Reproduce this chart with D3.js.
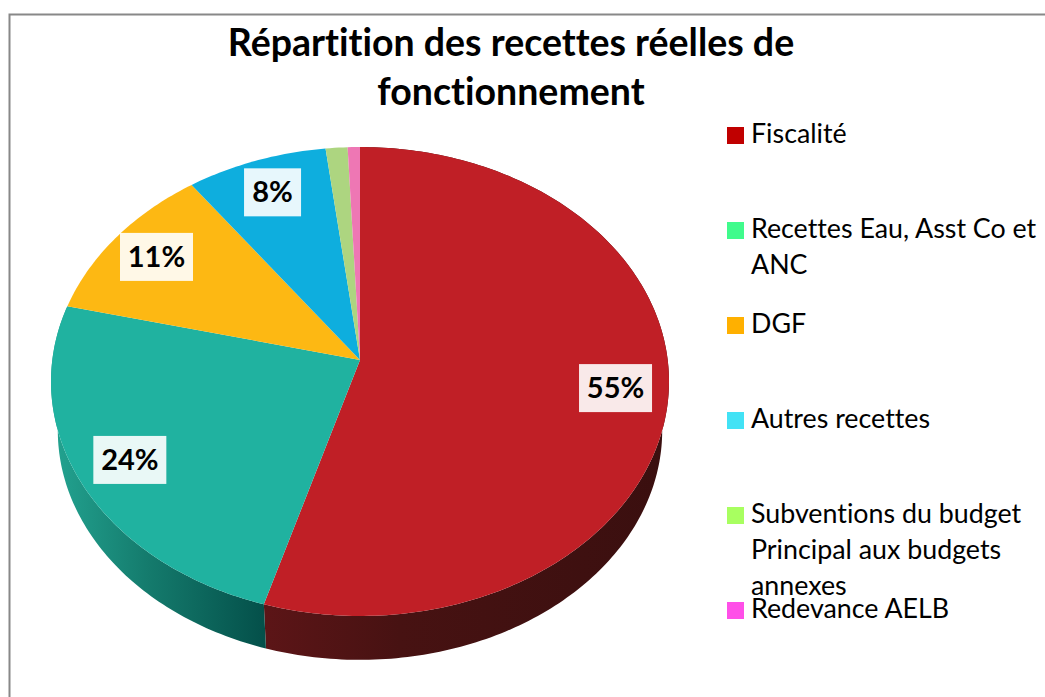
<!DOCTYPE html>
<html>
<head>
<meta charset="utf-8">
<script src="https://cdn.jsdelivr.net/npm/d3@7"></script>
<style>
  html, body { margin: 0; padding: 0; background: white; }
  svg { display: block; }
  text { font-family: Lato, "Open Sans", sans-serif; fill: black; font-variant-ligatures: none; }
</style>
</head>
<body>
<script>
var titleLines = ['Répartition des recettes réelles de', 'fonctionnement']
var categories = ['Fiscalité', 'Recettes Eau, Asst Co et ANC', 'DGF', 'Autres recettes', 'Subventions du budget Principal aux budgets annexes', 'Redevance AELB']
var legendLines = [['Fiscalité'], ['Recettes Eau, Asst Co et', 'ANC'], ['DGF'], ['Autres recettes'], ['Subventions du budget', 'Principal aux budgets', 'annexes'], ['Redevance AELB']]
var values = [54.6, 24.2, 11.2, 8.05, 1.25, 0.7]
var faceColors = ['#c01f26', '#20b2a0', '#fdb813', '#0eaede', '#add580', '#ee77b4']
var legendColors = ['#c00000', '#40fb8c', '#ffb000', '#42e2f5', '#a8ff60', '#ff4fe8']

var width = 1045, height = 697

var svg = d3.select('body').append('svg')
    .attr('width', width)
    .attr('height', height)

// frame, only top and left show in the picture
svg.append('path')
    .attr('d', 'M9.5,' + height + 'V14.5H' + width)
    .attr('fill', 'none')
    .attr('stroke', '#888')
    .attr('stroke-width', 2)

svg.selectAll('.title')
    .data(titleLines)
    .enter().append('text')
    .attr('class', 'title')
    .attr('x', 511)
    .attr('y', function(d, i){ return 56 + i * 49 })
    .attr('text-anchor', 'middle')
    .style('font-size', '37.5px')
    .style('font-weight', 'bold')
    .text(function(d){ return d })

// tilted disc: perspective projection of the unit circle
var cx = 360, cy = 360, persp = 0.0917
var scaleX = d3.scaleLinear().domain([-1, 1]).range([-307.7, 307.7])
var scaleY = d3.scaleLinear().domain([-1, 1]).range([-232.5, 232.5])

function project(t, r) {
  var u = r * Math.sin(t), v = -r * Math.cos(t), w = 1 - persp * v
  return [cx + scaleX(u) / w, cy + scaleY(v) / w]
}

// bottom rim is the top rim moved down and a bit smaller
var depth = 49.5, shrink = 0.978
function projectLow(t) {
  var p = project(t, 1)
  return [cx + (p[0] - cx) * shrink, cy + depth + (p[1] - cy) * shrink]
}

var pie = d3.pie().sort(null).value(function(d){ return d })
var slices = pie(values)
var line = d3.line()

function steps(a, b) {
  var n = Math.max(2, Math.ceil((b - a) * 60))
  return d3.range(n + 1).map(function(i){ return a + (b - a) * i / n })
}

var defs = svg.append('defs')
var sideStops = [
  [[264, '#5c1517'], [400, '#471212'], [669, '#3a0f0f']],
  [[51, '#23a491'], [150, '#147a6c'], [264, '#04504a']]
]
sideStops.forEach(function(stops, i) {
  var g = defs.append('linearGradient')
      .attr('id', 'side' + i)
      .attr('gradientUnits', 'userSpaceOnUse')
      .attr('x1', stops[0][0]).attr('x2', stops[stops.length - 1][0])
      .attr('y1', 0).attr('y2', 0)
  stops.forEach(function(s) {
    g.append('stop')
        .attr('offset', (s[0] - stops[0][0]) / (stops[stops.length - 1][0] - stops[0][0]))
        .attr('stop-color', s[1])
  })
})

// side wall, only the two slices on the front half
svg.selectAll('.side')
    .data(slices.slice(0, 2))
    .enter().append('path')
    .attr('class', 'side')
    .attr('fill', function(d, i){ return 'url(#side' + i + ')' })
    .attr('d', function(d) {
      var ts = steps(d.startAngle, d.endAngle)
      var top = ts.map(function(t){ return project(t, 1) })
      var low = ts.slice().reverse().map(projectLow)
      return line(top.concat(low)) + 'Z'
    })

svg.selectAll('.slice')
    .data(slices)
    .enter().append('path')
    .attr('class', 'slice')
    .attr('fill', function(d, i){ return faceColors[i] })
    .attr('d', function(d) {
      var pts = steps(d.startAngle, d.endAngle).map(function(t){ return project(t, 1) })
      return line([[cx, cy]].concat(pts)) + 'Z'
    })

var pct = d3.format('.0f')
var labelled = slices.filter(function(d){ return d.value >= 5 })

var labels = svg.selectAll('.label')
    .data(labelled)
    .enter().append('g')
    .attr('class', 'label')
    .attr('transform', function(d) {
      var p = project((d.startAngle + d.endAngle) / 2, 0.83)
      return 'translate(' + p[0] + ',' + p[1] + ')'
    })

labels.append('rect')
    .attr('x', function(d){ return d.value < 10 ? -28.5 : -36.5 })
    .attr('y', -24)
    .attr('width', function(d){ return d.value < 10 ? 57 : 73 })
    .attr('height', 48)
    .attr('fill', 'white')
    .attr('fill-opacity', 0.9)

labels.append('text')
    .attr('text-anchor', 'middle')
    .attr('y', 10)
    .style('font-size', '29px')
    .style('font-weight', 'bold')
    .text(function(d){ return pct(d.value) + '%' })

// legend
var legendY = d3.scalePoint().domain(categories).range([127, 602])

var legend = svg.selectAll('.legend')
    .data(categories)
    .enter().append('g')
    .attr('class', 'legend')
    .attr('transform', function(d){ return 'translate(727,' + legendY(d) + ')' })

legend.append('rect')
    .attr('width', 17)
    .attr('height', 17)
    .attr('fill', function(d, i){ return legendColors[i] })

legend.each(function(d, i) {
  d3.select(this).selectAll('text')
      .data(legendLines[i])
      .enter().append('text')
      .attr('x', 24)
      .attr('y', function(l, j){ return 16 + j * 36 })
      .style('font-size', '26.8px')
      .text(function(l){ return l })
})
</script>
</body>
</html>
